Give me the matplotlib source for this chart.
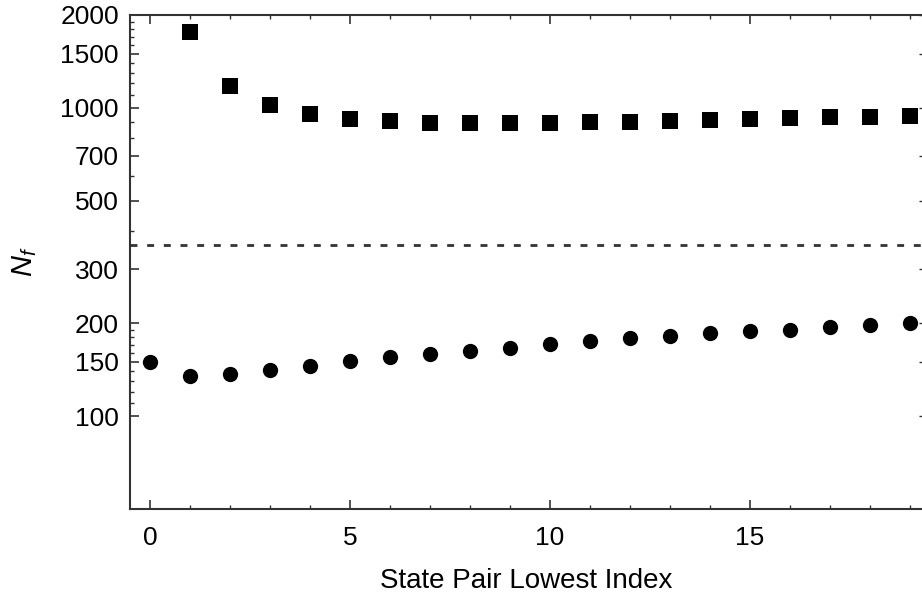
import matplotlib
matplotlib.use('Agg')
import matplotlib.pyplot as plt
import numpy as np

# values
index = list(range(20))
upper = [None, 1765, 1179, 1023, 956, 919, 905, 894, 894, 894,
         894, 901, 901, 908, 914, 921, 928, 935, 935, 942]
lower = [150, 135, 137, 141, 145, 150.5, 155, 158.6, 163, 167,
         171, 175, 178.7, 182, 185.6, 188.4, 191, 194.5, 197, 200]
threshold = 360

y_major = [100, 150, 200, 300, 500, 700, 1000, 1500, 2000]
y_minor = [110, 120, 130, 140, 160, 170, 180, 190, 400, 600, 800, 900,
           1100, 1200, 1300, 1400, 1600, 1700, 1800, 1900]
x_major = [0, 5, 10, 15]

plt.rcParams['font.family'] = ['Liberation Sans', 'DejaVu Sans']
plt.rcParams['mathtext.fontset'] = 'custom'
plt.rcParams['mathtext.it'] = 'Liberation Sans:italic'
plt.rcParams['mathtext.rm'] = 'Liberation Sans'

fig = plt.figure(figsize=(9.22, 5.99), dpi=100)
ax = fig.add_axes([130 / 922, 90 / 599, 793 / 922, 494 / 599])

xs_up = [x for x, v in zip(index, upper) if v is not None]
vs_up = [v for v in upper if v is not None]
ax.plot(xs_up, vs_up, 's', color='black', ms=11, mec='black', mew=0)
ax.plot(index, lower, 'o', color='black', ms=11, mew=0)
ax.axhline(threshold, color='#333333', lw=2.0, dashes=(2.5, 3.5))

ax.set_yscale('log')
ax.set_ylim(50, 2000)
ax.set_xlim(-0.5, 19.33)
ax.set_yticks(y_major)
ax.set_yticklabels([str(v) for v in y_major])
ax.set_yticks(y_minor, minor=True)
ax.set_yticklabels([], minor=True)
ax.set_xticks(x_major)
ax.set_xticks(index, minor=True)

for s in ax.spines.values():
    s.set_color('#333333')
    s.set_linewidth(1.5)

ax.tick_params(axis='both', which='both', direction='in', color='#333333',
               top=True, labelsize=19, labelcolor='black')
ax.tick_params(axis='both', which='major', length=6.5, width=1.2)
ax.tick_params(axis='both', which='minor', length=3, width=1.0)
ax.tick_params(axis='y', which='both', right=False, pad=8)
ax.tick_params(axis='x', which='major', pad=12)

# right side: short ticks at the major values only
ax2 = ax.twinx()
ax2.set_yscale('log')
ax2.set_ylim(50, 2000)
ax2.set_yticks(y_major)
ax2.set_yticklabels([])
ax2.set_yticks([], minor=True)
ax2.tick_params(axis='y', direction='in', length=3, width=1.0, color='#333333')
for s in ax2.spines.values():
    s.set_visible(False)

ax.set_xlabel('State Pair Lowest Index', fontsize=20)
ax.xaxis.set_label_coords(0.5, -0.12)
ax.set_ylabel('$N_f$', fontsize=21)
ax.yaxis.set_label_coords(-0.115, 0.5)

fig.savefig('out.png', dpi=100)
